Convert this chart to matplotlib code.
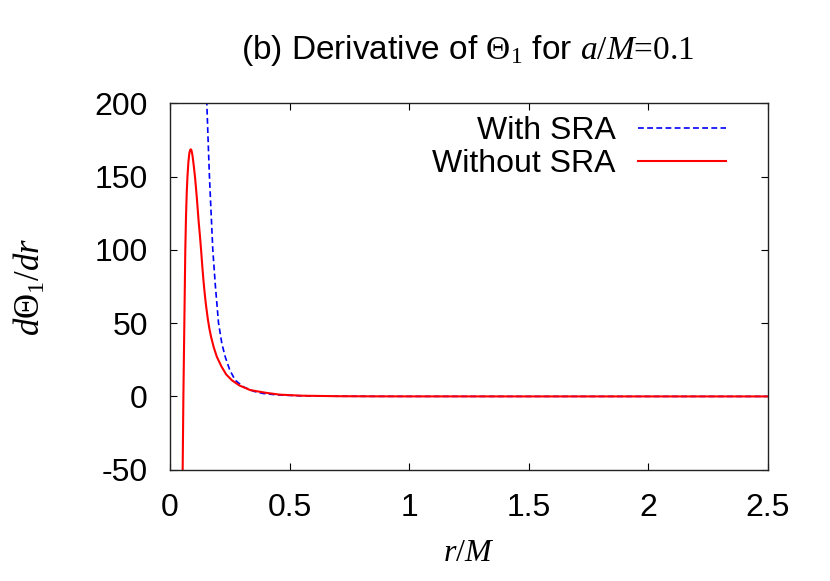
import numpy as np
import matplotlib
matplotlib.use("Agg")
import matplotlib.pyplot as plt

r_sra = [0.148, 0.154, 0.160, 0.165, 0.172, 0.179, 0.190, 0.203, 0.217, 0.231,
         0.250, 0.273, 0.307, 0.350, 0.390, 0.450, 0.550, 0.700, 0.850, 1.000,
         1.500, 2.000, 2.500]
d_sra = [240, 200, 172, 150, 125, 100, 75, 50, 36, 27,
         18, 11, 6.5, 3.5, 2.0, 1.0, 0.4, 0.12, 0.05, 0.02,
         0.003, 0.001, 0.0005]

r_nosra = [0.052, 0.053, 0.0545, 0.056, 0.058, 0.060, 0.062, 0.064, 0.067, 0.070,
           0.073, 0.077, 0.081, 0.084, 0.087, 0.090, 0.094, 0.099, 0.105, 0.112,
           0.120, 0.125, 0.130, 0.135, 0.140, 0.145, 0.150, 0.158, 0.165, 0.172,
           0.183, 0.196, 0.215, 0.235, 0.259, 0.290, 0.336, 0.400, 0.460, 0.550,
           0.700, 0.850, 1.000, 1.500, 2.000, 2.500]
d_nosra = [-65, -50, -25, 0, 25, 50, 75, 100, 123, 139,
           150, 160, 166, 168, 168.6, 167.8, 164.5, 158, 149, 136,
           119, 110, 100, 89, 79, 70.5, 63, 53, 46, 40.5,
           33.5, 27, 20.5, 15, 11, 7.5, 4.3, 2.5, 1.2, 0.5,
           0.15, 0.06, 0.03, 0.005, 0.002, 0.001]

xticks = [0, 0.5, 1, 1.5, 2, 2.5]
xticklabels = ['0', '0.5', '1', '1.5', '2', '2.5']
yticks = [-50, 0, 50, 100, 150, 200]

plt.rcParams['font.family'] = ['Liberation Sans', 'DejaVu Sans']
plt.rcParams['mathtext.fontset'] = 'custom'
plt.rcParams['mathtext.rm'] = 'Liberation Serif'
plt.rcParams['mathtext.it'] = 'Liberation Serif:italic'
plt.rcParams['mathtext.sf'] = 'Liberation Sans'
plt.rcParams['axes.unicode_minus'] = False

fs = 23

fig = plt.figure(figsize=(8.3, 5.81), dpi=100)
ax = fig.add_axes([170/830, 1-469.7/581, (767.7-170)/830, (469.7-103.3)/581])

ax.plot(r_sra, d_sra, color='#0000ff', lw=1.2, dashes=(3.5, 2), label='With SRA')
ax.plot(r_nosra, d_nosra, color='#ff0000', lw=1.5, label='Without SRA')

ax.set_xlim(0, 2.5)
ax.set_ylim(-50, 200)
ax.set_xticks(xticks)
ax.set_xticklabels(xticklabels)
ax.set_yticks(yticks)
ax.tick_params(direction='in', length=5, width=0.8, top=True, right=True,
               labelsize=fs, pad=16)
ax.tick_params(axis='x', pad=17)
for s in ax.spines.values():
    s.set_linewidth(1.0)
    s.set_color('#222222')

leg = ax.legend(loc='upper right', bbox_to_anchor=(0.930, 0.966), frameon=False,
                markerfirst=False, fontsize=fs, handlelength=2.75,
                handletextpad=0.7, labelspacing=0.1, borderpad=0,
                borderaxespad=0)

fig.text(468/830, 1-50/581,
         r'(b) Derivative of $\Theta_1$ for $a/M\text{=0.1}$',
         ha='center', va='center', fontsize=24)
fig.text(29/830, 1-287/581, r'$d\Theta_1/dr$', rotation=90,
         ha='center', va='center', fontsize=25)
fig.text(469/830, 1-553/581, r'$r/M$', ha='center', va='center', fontsize=fs)

fig.savefig('out.png', dpi=100)
